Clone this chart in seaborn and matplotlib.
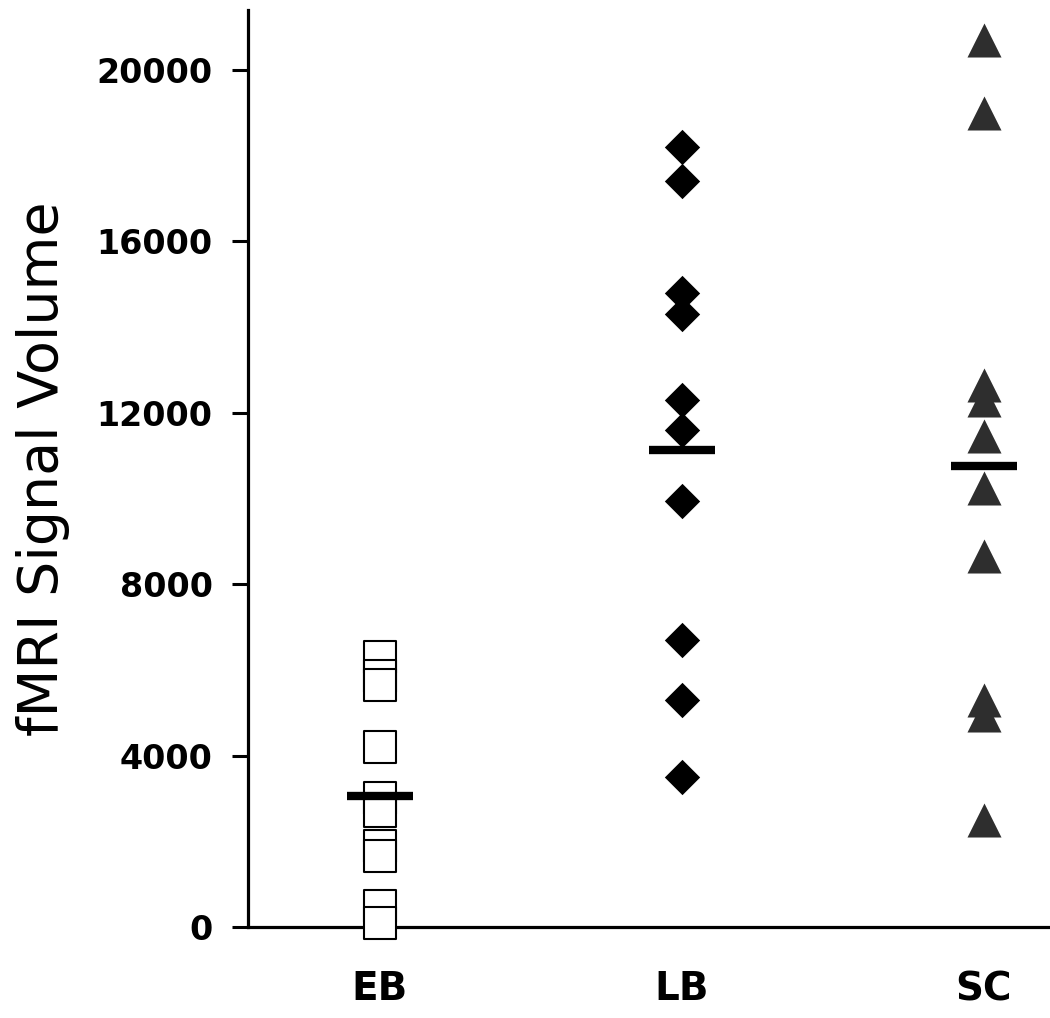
import numpy as np
import pandas as pd
import matplotlib
matplotlib.use("Agg")
import matplotlib.pyplot as plt
import seaborn as sns

categories = ["EB", "LB", "SC"]
eb_values = [6300, 5850, 5650, 4200, 3000, 2700, 1900, 1650, 500, 100]
lb_values = [18200, 17400, 14800, 14300, 12300, 11600, 9950, 6700, 5300, 3500]
sc_values = [20700, 19000, 12650, 12300, 11450, 10250, 8650, 5300, 4950, 2500]
group_means = [3060, 11130, 10760]
y_ticks = [0, 4000, 8000, 12000, 16000, 20000]

sns.set_theme(style="white")
plt.rcParams['font.family'] = ['DejaVu Sans']

fig = plt.figure(figsize=(10.5, 10.18), dpi=100)
ax = fig.add_axes([248/1050, 91/1018, 1 - 248/1050, (927-10)/1018])

df_eb = pd.DataFrame({"group": "EB", "value": eb_values})
df_lb = pd.DataFrame({"group": "LB", "value": lb_values})
df_sc = pd.DataFrame({"group": "SC", "value": sc_values})

sns.stripplot(data=df_eb, x="group", y="value", order=categories, jitter=False,
              marker="s", size=22.5, color="white", edgecolor="black", linewidth=1.5,
              ax=ax, zorder=3, clip_on=False)
sns.stripplot(data=df_lb, x="group", y="value", order=categories, jitter=False,
              marker="D", size=18, color="black", linewidth=0,
              ax=ax, zorder=3, clip_on=False)
sns.stripplot(data=df_sc, x="group", y="value", order=categories, jitter=False,
              marker="^", size=24.5, color="#2e2e2e", linewidth=0,
              ax=ax, zorder=3, clip_on=False)

df_mean = pd.DataFrame({"group": categories, "value": group_means})
sns.pointplot(data=df_mean, x="group", y="value", order=categories, errorbar=None,
              color="black", marker="_", markersize=48, markeredgewidth=6,
              linestyle="none", ax=ax, zorder=5)

ax.set_xlim(-0.437, 2.22)
ax.set_ylim(0, 21400)
ax.set_yticks(y_ticks)
ax.set_yticklabels([str(t) for t in y_ticks], fontsize=24, fontweight="bold")
ax.set_xticks(range(len(categories)))
ax.set_xticklabels(categories, fontsize=28, fontweight="bold")

ax.tick_params(axis="y", which="major", direction="out", length=11.5, width=2.2,
               pad=14, left=True, color="black", labelcolor="black")
ax.tick_params(axis="x", which="major", length=0, pad=31, labelcolor="black")

for side in ["top", "right"]:
    ax.spines[side].set_visible(False)
for side in ["left", "bottom"]:
    ax.spines[side].set_visible(True)
    ax.spines[side].set_color("black")
    ax.spines[side].set_linewidth(2.3)

ax.set_xlabel("")
ax.set_ylabel("fMRI Signal Volume", fontsize=40, color="black")
ax.yaxis.set_label_coords(-0.222, 0.5)
ax.set_facecolor("white")
fig.patch.set_facecolor("white")

fig.savefig("out.png", dpi=100, facecolor="white")
